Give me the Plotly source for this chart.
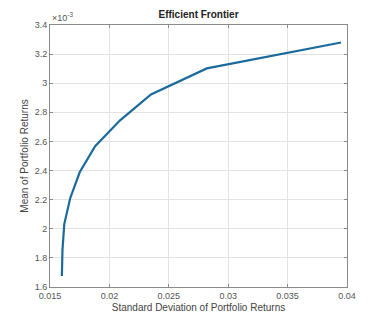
import plotly.graph_objects as go

# Efficient frontier points (std dev, mean return in units of 1e-3)
risk = [0.0160, 0.01605, 0.0162, 0.0167, 0.0175, 0.0188, 0.0209, 0.0235, 0.0282, 0.0395]
ret = [1.675, 1.853, 2.032, 2.210, 2.388, 2.567, 2.745, 2.923, 3.102, 3.280]

x_ticks = [0.015, 0.02, 0.025, 0.03, 0.035, 0.04]
x_labels = ["0.015", "0.02", "0.025", "0.03", "0.035", "0.04"]
y_ticks = [1.6, 1.8, 2.0, 2.2, 2.4, 2.6, 2.8, 3.0, 3.2, 3.4]
y_labels = ["1.6", "1.8", "2", "2.2", "2.4", "2.6", "2.8", "3", "3.2", "3.4"]

fig = go.Figure()
fig.add_trace(go.Scatter(x=risk, y=ret, mode="lines",
                         line=dict(color="#1a6a9c", width=2.2), showlegend=False))

font = "Liberation Sans, Arial, sans-serif"
axis_common = dict(showgrid=True, gridcolor="#e3e3e3", gridwidth=1,
                   showline=True, linecolor="#8a8a8a", linewidth=1, mirror="ticks",
                   ticks="inside", ticklen=3, tickcolor="#8a8a8a",
                   zeroline=False, tickfont=dict(family=font, size=9, color="#555555"))

fig.update_layout(
    width=384, height=323,
    margin=dict(l=50, r=37, t=25, b=36),
    paper_bgcolor="white", plot_bgcolor="white",
    title=dict(text="<b>Efficient Frontier</b>", x=0.517, xanchor="center", y=0.955, yanchor="middle",
               font=dict(family=font, size=10, color="#222222")),
    xaxis=dict(range=[0.015, 0.04], tickvals=x_ticks, ticktext=x_labels,
               title=dict(text="Standard Deviation of Portfolio Returns", standoff=4,
                          font=dict(family=font, size=10, color="#444444")),
               **axis_common),
    yaxis=dict(range=[1.6, 3.4], tickvals=y_ticks, ticktext=y_labels,
               title=dict(text="Mean of Portfolio Returns", standoff=4,
                          font=dict(family=font, size=10, color="#444444")),
               **axis_common),
)
fig.add_annotation(text="×10<sup>-3</sup>", xref="paper", yref="paper", x=0.0, y=1.0,
                   xanchor="left", yanchor="bottom", showarrow=False,
                   font=dict(family=font, size=9, color="#555555"))

fig.write_html("out.html")
